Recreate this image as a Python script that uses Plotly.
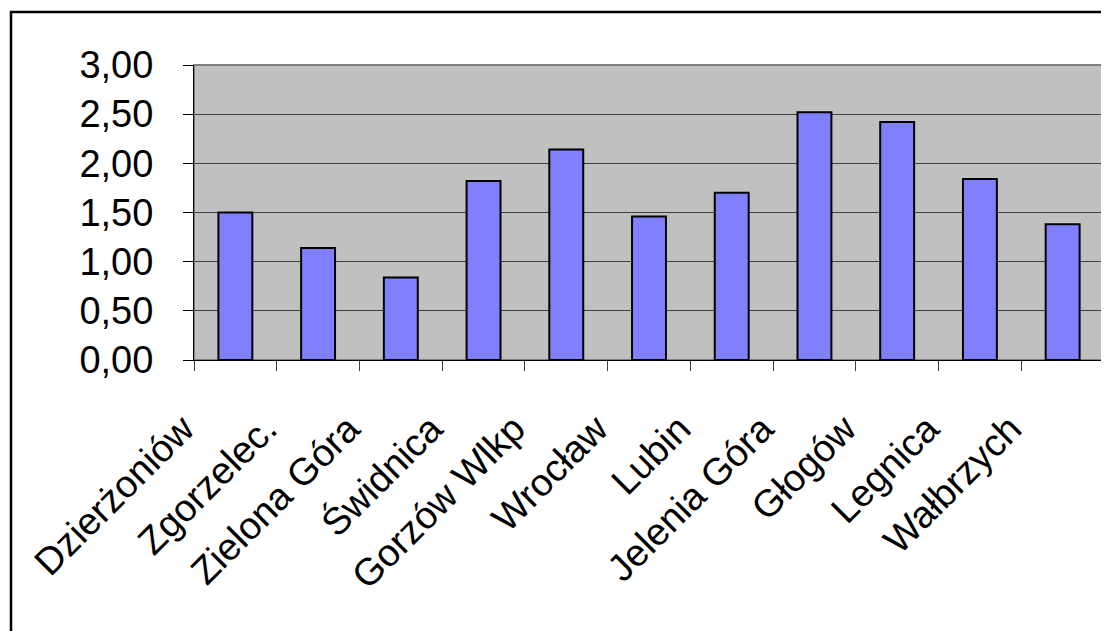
import plotly.graph_objects as go

categories = ["Dzierżoniów", "Zgorzelec.", "Zielona Góra", "Świdnica", "Gorzów Wlkp",
              "Wrocław", "Lubin", "Jelenia Góra", "Głogów", "Legnica", "Wałbrzych"]
values = [1.50, 1.14, 0.84, 1.82, 2.14, 1.46, 1.70, 2.52, 2.42, 1.84, 1.38]
y_ticks = [0, 0.5, 1.0, 1.5, 2.0, 2.5, 3.0]
y_tick_labels = ["0,00", "0,50", "1,00", "1,50", "2,00", "2,50", "3,00"]

# page has an 8px body margin; figure coordinates are page coords minus 8
OFF = 8
W, H = 1101, 623
L, R, T = 194 - OFF, 5, 65 - OFF
B = H - (360 - OFF)
pw, ph = W - L - R, H - T - B

def px_x(p):
    return (p - OFF - L) / pw

def px_y(p):
    return (H - B - (p - OFF)) / ph

# trailing non-breaking spaces shift the rotated labels left, like the original's label anchoring
PAD = "\u00a0" * 7
tick_text = [c + PAD for c in categories]

fig = go.Figure()
fig.add_trace(go.Bar(
    x=categories, y=values,
    marker=dict(color="#8080FF", line=dict(color="#000000", width=2)),
))

font = dict(family="Liberation Sans, Arial, sans-serif", size=38, color="#000000")

fig.update_layout(
    width=W, height=H,
    margin=dict(l=L, r=R, t=T, b=B, pad=0),
    paper_bgcolor="#FFFFFF",
    plot_bgcolor="#C0C0C0",
    bargap=0.59,
    showlegend=False,
    font=font,
    xaxis=dict(
        type="category",
        tickvals=categories, ticktext=tick_text,
        tickangle=-45,
        ticks="outside", ticklen=10, tickwidth=1, tickcolor="#404040",
        tickson="boundaries",
        showline=True, linecolor="#000000", linewidth=1,
        showgrid=False,
        tickfont=font,
        ticklabelstandoff=-22,
    ),
    yaxis=dict(
        range=[0, 3.0],
        tickvals=y_ticks, ticktext=y_tick_labels,
        ticks="outside", ticklen=10, tickwidth=1, tickcolor="#000000",
        showline=True, linecolor="#000000", linewidth=1,
        showgrid=True, gridcolor="#404040", gridwidth=1,
        zeroline=False,
        tickfont=font,
        ticklabelstandoff=22,
    ),
    shapes=[
        dict(type="rect", xref="paper", yref="paper",
             x0=0, x1=1, y0=0, y1=1,
             line=dict(color="#808080", width=2), layer="below"),
        dict(type="rect", xref="paper", yref="paper",
             x0=px_x(11), x1=px_x(1130), y0=px_y(12), y1=px_y(650),
             line=dict(color="#000000", width=2.5), fillcolor="rgba(0,0,0,0)"),
    ],
)

fig.write_html("out.html")
